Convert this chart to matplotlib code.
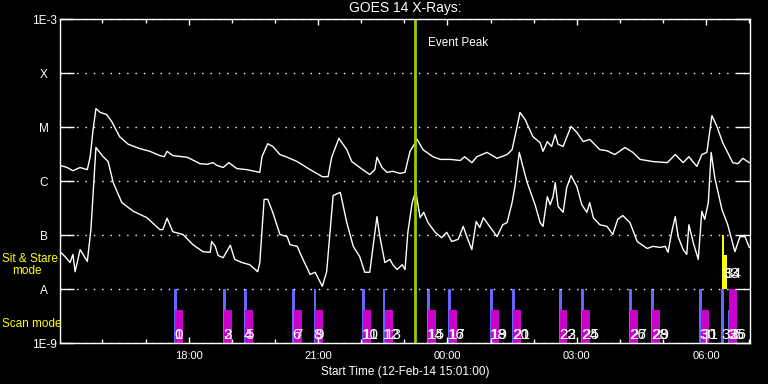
import matplotlib.pyplot as plt
import matplotlib.transforms as mtrans
import numpy as np

plt.rcParams['font.family'] = ['Liberation Sans', 'DejaVu Sans']

# GOES 14 light curves: minutes after 15:01:00, log10 flux (W/m^2)
long_t = [0, 10, 18, 28, 38, 42, 46, 50, 56, 65, 72, 83, 95, 111, 125, 139, 145, 149, 157, 177,
          195, 205, 213, 218, 227, 235, 246, 260, 278, 281, 289, 296, 306, 316, 330, 348, 365, 373,
          378, 388, 399, 406, 417, 431, 438, 441, 448, 455, 463, 473, 480, 487, 497, 505, 519, 529,
          543, 557, 563, 573, 580, 594, 608, 622, 629, 636, 640, 647, 658, 668, 672, 678, 684, 689,
          693, 700, 711, 719, 728, 737, 751, 761, 772, 786, 797, 807, 825, 845, 856, 867, 875, 886,
          893, 900, 907, 914, 922, 936, 943, 950, 959]
long_logf = [-5.71, -5.75, -5.81, -5.75, -5.79, -5.55, -5.05, -4.66, -4.73, -4.77, -4.90, -5.18,
             -5.32, -5.40, -5.45, -5.53, -5.55, -5.45, -5.53, -5.56, -5.68, -5.69, -5.66, -5.71,
             -5.75, -5.66, -5.77, -5.79, -5.84, -5.55, -5.31, -5.36, -5.51, -5.56, -5.64, -5.79,
             -5.92, -5.92, -5.56, -5.21, -5.42, -5.64, -5.75, -5.88, -5.79, -5.56, -5.75, -5.84,
             -5.82, -5.86, -5.84, -5.45, -5.23, -5.42, -5.55, -5.60, -5.60, -5.62, -5.55, -5.66,
             -5.55, -5.47, -5.58, -5.51, -5.42, -4.99, -4.73, -4.86, -5.18, -5.29, -5.45, -5.27,
             -5.36, -5.14, -5.32, -5.36, -4.99, -5.10, -5.27, -5.23, -5.42, -5.44, -5.51, -5.38,
             -5.47, -5.60, -5.64, -5.66, -5.51, -5.66, -5.55, -5.73, -5.51, -5.47, -4.79, -4.99,
             -5.29, -5.66, -5.68, -5.58, -5.66]

short_t = [0, 7, 14, 18, 21, 28, 38, 43, 50, 60, 67, 74, 86, 102, 121, 139, 143, 149, 157, 171,
           185, 199, 209, 211, 216, 220, 227, 237, 243, 253, 264, 275, 278, 284, 289, 296, 306, 316,
           320, 330, 338, 348, 355, 365, 371, 380, 390, 399, 408, 417, 424, 431, 435, 441, 445, 452,
           459, 463, 469, 476, 480, 484, 490, 495, 501, 506, 512, 522, 531, 538, 545, 554, 561, 566,
           573, 579, 584, 589, 601, 608, 616, 622, 629, 633, 639, 644, 650, 661, 668, 672, 678, 682,
           686, 689, 693, 700, 705, 711, 719, 726, 733, 737, 742, 751, 761, 769, 776, 783, 793, 803,
           817, 825, 835, 842, 846, 851, 856, 860, 867, 872, 875, 881, 888, 893, 897, 902, 906, 911,
           921, 929, 939, 946, 953, 959]
short_logf = [-7.31, -7.40, -7.51, -7.36, -7.68, -7.27, -7.49, -6.90, -5.38, -5.55, -5.64, -6.03,
              -6.40, -6.56, -6.68, -6.90, -6.90, -6.69, -6.94, -6.99, -7.18, -7.31, -7.32, -7.12,
              -7.21, -7.38, -7.42, -7.19, -7.45, -7.51, -7.55, -7.68, -7.51, -6.34, -6.34, -6.58,
              -6.99, -7.03, -7.18, -7.21, -7.45, -7.73, -7.69, -7.95, -7.68, -6.27, -6.21, -6.77,
              -7.21, -7.40, -7.69, -7.69, -7.27, -6.66, -7.03, -7.51, -7.45, -7.55, -7.64, -7.55,
              -7.64, -6.95, -6.40, -6.19, -6.68, -6.58, -6.77, -6.95, -7.05, -6.95, -7.12, -7.08,
              -6.84, -7.03, -7.27, -6.75, -6.86, -6.68, -6.90, -7.03, -6.81, -6.77, -6.40, -6.10,
              -5.47, -5.73, -6.03, -6.44, -6.77, -6.84, -6.29, -6.44, -6.29, -6.03, -6.47, -6.58,
              -6.12, -5.90, -6.10, -6.44, -6.58, -6.40, -6.68, -6.81, -6.84, -6.99, -6.71, -6.64,
              -6.77, -7.12, -7.25, -7.21, -7.23, -7.21, -7.32, -6.95, -6.66, -7.03, -7.27, -7.36,
              -6.81, -7.14, -7.45, -6.56, -6.71, -6.40, -5.47, -5.94, -6.53, -6.81, -7.31, -7.03,
              -7.03, -7.23]

ytick_vals = [1e-9, 1e-8, 1e-7, 1e-6, 1e-5, 1e-4, 1e-3]
ytick_labels = ['1E-9', 'A', 'B', 'C', 'M', 'X', '1E-3']

hour_ticks = [59, 119, 179, 239, 299, 359, 419, 479, 539, 599, 659, 719, 779, 839, 899, 959]
label_ticks = [179, 359, 539, 719, 899]
label_text = ['18:00', '21:00', '00:00', '03:00', '06:00']

event_peak_t = 494

# scan mode markers
blue_t = [159, 227, 256, 323, 353, 420, 449, 511, 540, 598, 629, 694, 725, 792, 822, 889, 920, 929]
blue_top = [1e-8, 1e-8, 1e-8, 1e-8, 1e-8, 1e-8, 1e-8, 1e-8, 1e-8, 1e-8, 1e-8, 1e-8, 1e-8,
            1e-8, 1e-8, 1e-8, 1e-8, 4.1e-9]
blue_ids = [0, 2, 4, 6, 8, 10, 12, 14, 16, 18, 20, 22, 24, 26, 28, 30, 32, 35]
mag_t = [160, 228, 258, 326, 355, 422, 452, 512, 541, 600, 630, 695, 726, 793, 824, 892, 931]
mag_top = [4.1e-9, 4.1e-9, 4.1e-9, 4.1e-9, 4.1e-9, 4.1e-9, 4.1e-9, 4.1e-9, 4.1e-9, 4.1e-9,
           4.1e-9, 4.1e-9, 4.1e-9, 4.1e-9, 4.1e-9, 4.1e-9, 1e-8]
mag_ids = [1, 3, 5, 7, 9, 11, 13, 15, 17, 19, 21, 23, 25, 27, 29, 31, 36]

# sit & stare markers
stare_t = [921, 924]
stare_top = [1e-7, 4.3e-8]
stare_ids = [33, 34]

fig = plt.figure(figsize=(7.68, 3.84), dpi=100, facecolor='black')
ax = fig.add_axes([60 / 768, 41 / 384, 690 / 768, 324 / 384])
ax.set_facecolor('black')
ax.set_yscale('log')
ax.set_xlim(0, 960)
ax.set_ylim(1e-9, 1e-3)

ax.grid(axis='y', which='major', color='white', linestyle=(0, (1, 5)), lw=1)

ax.plot(long_t, 10 ** np.array(long_logf), color='white', lw=1)
ax.plot(short_t, 10 ** np.array(short_logf), color='white', lw=1)

ax.axvline(event_peak_t, color='#99cc00', lw=2)
ax.annotate('Event Peak', xy=(event_peak_t, 0.926), xycoords=('data', 'axes fraction'),
            xytext=(9, 0), textcoords='offset points', color='white', fontsize=8.5, va='center')

ax.bar(blue_t, np.array(blue_top) - 1e-9, bottom=1e-9, width=3.8, align='edge', color='#6666ff')
ax.bar(mag_t, np.array(mag_top) - 1e-9, bottom=1e-9, width=11, align='edge', color='#cc00cc')
ax.bar(stare_t, np.array(stare_top) - 1e-8, bottom=1e-8, width=3.5, align='edge', color='#ffff00')

tr = mtrans.blended_transform_factory(ax.transData, ax.transAxes)
for t, i in zip(blue_t + mag_t, blue_ids + mag_ids):
    ax.text(t, 0.012, str(i), transform=tr, color='white', fontsize=11, ha='left', va='baseline')
for t, i in zip(stare_t, stare_ids):
    ax.text(t + 1, 0.2, str(i), transform=tr, color='white', fontsize=11, ha='left', va='baseline')

# y axis: class letters
ax.set_yticks(ytick_vals)
ax.set_yticklabels(ytick_labels)
ax.yaxis.set_minor_locator(plt.NullLocator())
ax.tick_params(axis='y', which='major', direction='in', length=10, width=1, colors='white',
               left=True, right=True, labelsize=8.5, pad=11.5)
for lbl in ax.get_yticklabels():
    lbl.set_ha('center')

# x axis: hours
ax.set_xticks(label_ticks)
ax.set_xticklabels(label_text)
ax.set_xticks(hour_ticks, minor=True)
ax.tick_params(axis='x', which='major', direction='in', length=4.3, width=1, colors='white',
               top=True, bottom=True, labelsize=8, pad=6)
ax.tick_params(axis='x', which='minor', direction='in', length=2.8, width=1, colors='white',
               top=True, bottom=True)

for s in ax.spines.values():
    s.set_color('white')
    s.set_linewidth(1)

ax.set_xlabel('Start Time (12-Feb-14 15:01:00)', color='white', fontsize=8.5, labelpad=3)
ax.set_title('GOES 14 X-Rays:', color='white', fontsize=10, pad=5)

fig.text(2 / 768, 0.3255, 'Sit & Stare', color='yellow', fontsize=8.5, va='center')
fig.text(12 / 768, 0.294, 'mode', color='yellow', fontsize=8.5, va='center')
fig.text(2 / 768, 0.156, 'Scan mode', color='yellow', fontsize=8.5, va='center')

fig.savefig('out.png', dpi=100, facecolor='black')
